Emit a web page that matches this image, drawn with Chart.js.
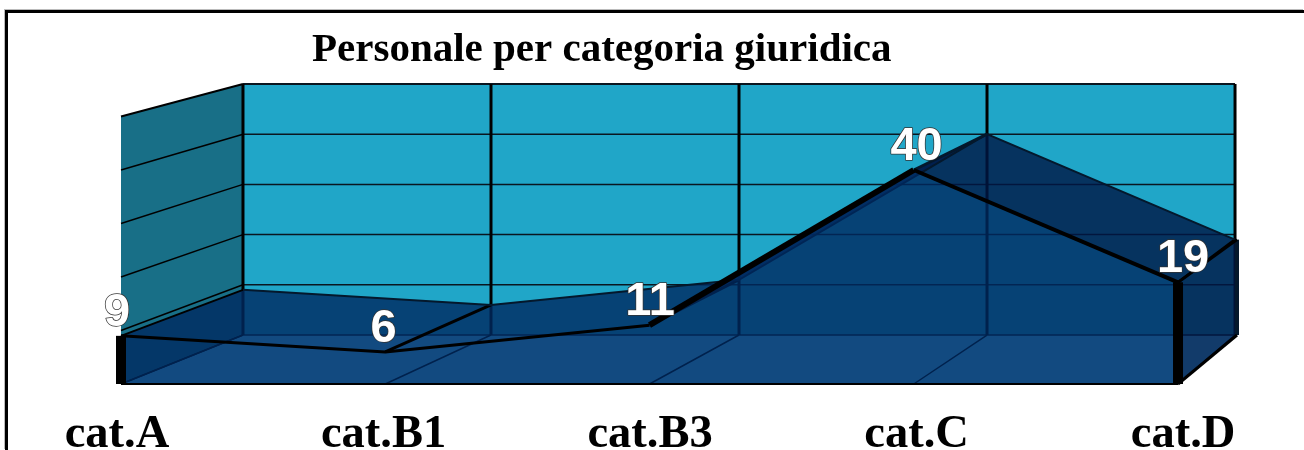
<!DOCTYPE html>
<html>
<head>
<meta charset="utf-8">
<title>Personale per categoria giuridica</title>
<script src="https://cdn.jsdelivr.net/npm/chart.js@4"></script>
<style>
    html, body { margin: 0; padding: 0; background: #fff; overflow: hidden; }
    #wrap { position: relative; width: 1304px; height: 450px; }
    #frame { position: absolute; left: 5px; top: 10px; right: 0; bottom: 0; border-left: 3px solid #000; border-top: 3px solid #000; box-shadow: -1px -1px 0 #bbb; }
    canvas { position: absolute; left: 0; top: 0; }
</style>
</head>
<body>
<div id="wrap">
    <div id="frame"></div>
    <canvas id="areaChart" width="1304" height="450"></canvas>
</div>
<script>
const chartTitle = "Personale per categoria giuridica";
const categories = ["cat.A", "cat.B1", "cat.B3", "cat.C", "cat.D"];
const personale = [9, 6, 11, 40, 19];
const yTicks = [0, 10, 20, 30, 40, 50];

const points = personale.map((v, i) => ({ x: i, y: v }));
const last = categories.length - 1;

function polygon(ctx, pts, fill) {
    ctx.beginPath();
    pts.forEach((p, i) => i ? ctx.lineTo(p[0], p[1]) : ctx.moveTo(p[0], p[1]));
    ctx.closePath();
    ctx.fillStyle = fill;
    ctx.fill();
}

function segment(ctx, a, b, color, width) {
    ctx.beginPath();
    ctx.moveTo(a[0], a[1]);
    ctx.lineTo(b[0], b[1]);
    ctx.strokeStyle = color;
    ctx.lineWidth = width;
    ctx.stroke();
}

// the depth of the 3D box comes from a second pair of scales for the back plane
const front = (chart, i, v) => [chart.scales.x.getPixelForValue(i), chart.scales.y.getPixelForValue(v)];
const back = (chart, i, v) => [chart.scales.xBack.getPixelForValue(i), chart.scales.yBack.getPixelForValue(v)];
// right side face sits a hair outside the back wall
const side = (chart, v) => [back(chart, last, v)[0] + 2, back(chart, last, v)[1]];

const box3d = {
    id: "box3d",
    beforeDatasetsDraw(chart) {
        const ctx = chart.ctx;
        const top = yTicks[yTicks.length - 1];
        ctx.save();
        // back wall, left wall, floor
        polygon(ctx, [back(chart, 0, 0), back(chart, 0, top), back(chart, last, top), back(chart, last, 0)], "#20a6c8");
        polygon(ctx, [front(chart, 0, 0), front(chart, 0, top), back(chart, 0, top), back(chart, 0, 0)], "#186f87");
        polygon(ctx, [front(chart, 0, 0), back(chart, 0, 0), back(chart, last, 0), front(chart, last, 0)], "#5acdff");

        yTicks.forEach(t => {
            const w = t === top ? 2 : 1.5;
            segment(ctx, back(chart, 0, t), back(chart, last, t), "#0a1620", w);
            segment(ctx, front(chart, 0, t), back(chart, 0, t), "#000", w);
        });
        categories.forEach((c, i) => {
            segment(ctx, back(chart, i, 0), back(chart, i, top), "#000", 3);
            segment(ctx, front(chart, i, 0), back(chart, i, 0), "#000", 1.5);
        });

        // top faces between the back plane and the front plane
        for (let i = 0; i < last; i++) {
            polygon(ctx, [
                front(chart, i, personale[i]), back(chart, i, personale[i]),
                back(chart, i + 1, personale[i + 1]), front(chart, i + 1, personale[i + 1])
            ], i === last - 1 ? "rgba(0,22,69,0.8)" : "rgba(0,41,96,0.8)");
        }
        for (let i = 0; i <= last; i++) {
            segment(ctx, front(chart, i, personale[i]), back(chart, i, personale[i]), i === 3 ? "#04182c" : "#000", i === 0 ? 2 : 3);
        }
        ctx.restore();
    },
    afterDatasetsDraw(chart) {
        const ctx = chart.ctx;
        const endValue = personale[last];
        ctx.save();
        // right side face
        polygon(ctx, [front(chart, last, endValue), side(chart, endValue), side(chart, 0), front(chart, last, 0)], "rgba(0,22,69,0.8)");
        segment(ctx, side(chart, endValue), side(chart, 0), "#04182c", 4);
        segment(ctx, side(chart, 0), front(chart, last, 0), "#000", 3);
        segment(ctx, front(chart, last, endValue), side(chart, endValue), "#000", 3);

        // thick front edges and base line
        segment(ctx, front(chart, 0, personale[0]), front(chart, 0, 0), "#000", 10);
        segment(ctx, front(chart, last, endValue), front(chart, last, 0), "#000", 10);
        segment(ctx, front(chart, 0, 0), front(chart, last, 0), "#000", 2);

        // value labels, centred over the category labels
        ctx.font = "bold 47px 'Liberation Sans'";
        ctx.textAlign = "center";
        ctx.textBaseline = "middle";
        ctx.lineJoin = "round";
        personale.forEach((v, i) => {
            const x = chart.scales.xLabels.getPixelForValue(i);
            const y = chart.scales.y.getPixelForValue(v) - 23;
            ctx.strokeStyle = "#333";
            ctx.lineWidth = 1.5;
            ctx.strokeText(v, x, y);
            ctx.fillStyle = "#fff";
            ctx.fillText(v, x, y);
        });

        // title
        ctx.font = "bold 41px 'Liberation Serif'";
        ctx.textAlign = "left";
        ctx.fillStyle = "#000";
        ctx.fillText(chartTitle, 312, 50);
        ctx.restore();
    }
};

new Chart(document.getElementById("areaChart"), {
    type: "line",
    data: {
        labels: categories,
        datasets: [
            {
                label: "Personale (bordo)",
                data: points,
                xAxisID: "x",
                yAxisID: "y",
                fill: false,
                borderColor: "#000",
                segment: { borderWidth: c => c.p0DataIndex === 2 ? 6 : c.p0DataIndex === 3 ? 4 : 3 },
                pointRadius: 0,
                tension: 0,
                clip: false
            },
            {
                label: "Personale",
                data: points,
                xAxisID: "x",
                yAxisID: "y",
                fill: "origin",
                backgroundColor: "rgba(0,41,96,0.8)",
                borderWidth: 0,
                pointRadius: 0,
                tension: 0,
                clip: false
            },
            {
                label: "Personale (piano posteriore)",
                data: points,
                xAxisID: "xBack",
                yAxisID: "yBack",
                fill: false,
                borderColor: "#04182c",
                borderWidth: 2,
                pointRadius: 0,
                tension: 0,
                clip: false
            }
        ]
    },
    options: {
        responsive: false,
        animation: false,
        layout: { padding: { top: 84, left: 117, right: 66, bottom: 0 } },
        plugins: { legend: { display: false }, tooltip: { enabled: false } },
        scales: {
            xLabels: {
                type: "linear",
                position: "bottom",
                min: 0,
                max: 4.206,
                grid: { display: false },
                border: { display: false },
                afterFit(scale) { scale.height = 66; },
                ticks: {
                    stepSize: 1,
                    autoSkip: false,
                    maxRotation: 0,
                    includeBounds: false,
                    padding: 15,
                    color: "#000",
                    font: { family: "'Liberation Serif'", size: 46.5, weight: "bold" },
                    callback: v => categories[v] ?? ""
                }
            },
            x: { type: "linear", display: false, min: -0.01514, max: 4.227 },
            xBack: { type: "linear", display: false, min: -0.508, max: 4.012 },
            y: { type: "linear", display: false, min: 0, max: 56.07 },
            yBack: { type: "linear", display: false, min: -9.76, max: 50 }
        }
    },
    plugins: [box3d]
});
</script>
</body>
</html>
